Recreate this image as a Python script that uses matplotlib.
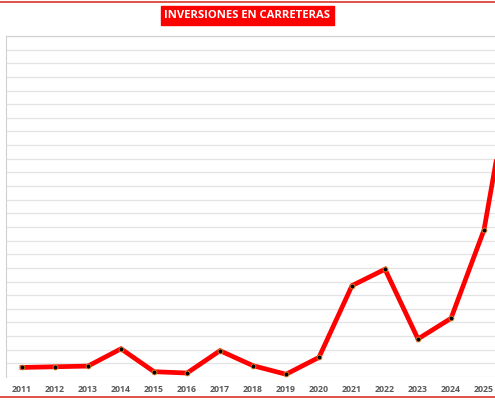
import numpy as np
import matplotlib
matplotlib.use('Agg')
import matplotlib.pyplot as plt

years = ['2011', '2012', '2013', '2014', '2015', '2016', '2017', '2018',
         '2019', '2020', '2021', '2022', '2023', '2024', '2025', '2026']
inversion = [7.0, 7.5, 8.0, 20.7, 3.9, 2.9, 19.3, 8.3,
             2.0, 14.4, 67.0, 79.0, 27.9, 43.0, 107.8, 245.0]
title = 'INVERSIONES EN CARRETERAS'

fig = plt.figure(figsize=(4.95, 4.0), dpi=100)
ax = fig.add_axes([5.5 / 495, 23 / 400, 528 / 495, 341 / 400])

x = np.arange(len(years))
ax.plot(x, inversion, color='#ff0000', lw=3.4, solid_joinstyle='miter',
        marker='o', ms=3.5, mfc='black', mec='#e08a2a', mew=0.6, zorder=3)

ax.set_xlim(-0.5, len(years) - 0.5)
ax.set_ylim(0, 250)
ax.set_yticks(np.arange(0, 251, 10))
ax.set_yticklabels([])
ax.tick_params(axis='y', length=0)
ax.grid(axis='y', color='#e3e3e3', lw=0.9)
ax.set_axisbelow(True)
ax.set_xticks(x)
# the last year falls outside the visible picture, so its label is left out
ax.set_xticklabels(years[:-1] + [''], fontsize=6.3, color='#595959',
                   fontweight='bold', family='Open Sans')
ax.tick_params(axis='x', length=0, pad=6)
for s in ['left', 'top']:
    ax.spines[s].set_color('#d0d0d0')
ax.spines['right'].set_visible(False)
ax.spines['bottom'].set_visible(False)

fig.text(0.5, 1 - 15.5 / 400, title, ha='center', va='center', color='white',
         fontsize=8.1, fontweight='bold', family='Open Sans',
         bbox=dict(boxstyle='square,pad=0.33', fc='#ff0000', ec='#ff0000'))

# red frame lines top and bottom
fig.add_artist(plt.Line2D([0, 1], [1 - 1.5 / 400] * 2, color='#d9342b', lw=1.2))
fig.add_artist(plt.Line2D([0, 1], [3 / 400] * 2, color='#d9342b', lw=1.2))

fig.savefig('out.png', dpi=100)
